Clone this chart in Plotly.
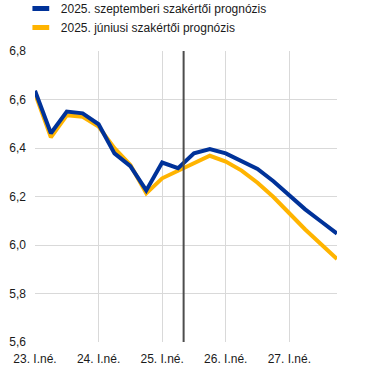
import plotly.graph_objects as go

quarters = list(range(20))  # 2023 Q1 .. 2027 Q4
tick_pos = [0, 4, 8, 12, 16]
tick_labels = ["23. I.né.", "24. I.né.", "25. I.né.", "26. I.né.", "27. I.né."]

sept = [6.636, 6.461, 6.550, 6.543, 6.498, 6.378, 6.325, 6.225, 6.340, 6.317,
        6.378, 6.396, 6.378, 6.348, 6.314, 6.263, 6.204, 6.147, 6.097, 6.047]
june = [6.625, 6.444, 6.535, 6.529, 6.488, 6.399, 6.330, 6.213, 6.275, 6.305,
        6.334, 6.368, 6.344, 6.307, 6.257, 6.198, 6.131, 6.064, 6.003, 5.942]

name_sept = "2025. szeptemberi szakértői prognózis"
name_june = "2025. júniusi szakértői prognózis"
blue = "#003299"
yellow = "#FFB400"
cutoff = 9.35

fig = go.Figure()
fig.add_trace(go.Scatter(x=quarters, y=june, mode="lines", line=dict(color=yellow, width=4),
                         showlegend=False))
fig.add_trace(go.Scatter(x=quarters, y=sept, mode="lines", line=dict(color=blue, width=4),
                         showlegend=False))
for nm, col in [(name_sept, blue), (name_june, yellow)]:
    fig.add_trace(go.Scatter(x=[None], y=[None], mode="markers", name=nm,
                             marker=dict(symbol="line-ew", size=12, color=col,
                                         line=dict(color=col, width=5))))

fig.add_shape(type="line", x0=cutoff, x1=cutoff, y0=5.6, y1=6.8, xref="x", yref="y",
              line=dict(color="#4d4d4d", width=2))

fig.update_layout(
    width=372, height=372,
    margin=dict(l=35, r=35, t=51, b=30, autoexpand=False),
    paper_bgcolor="white", plot_bgcolor="white",
    font=dict(family="Liberation Sans, Arial, sans-serif", size=12, color="#1a1a1a"),
    legend=dict(x=0.056, y=1.196, xref="container", yref="paper",
                xanchor="left", yanchor="top", orientation="v", tracegroupgap=0,
                font=dict(size=12), bgcolor="rgba(0,0,0,0)", itemwidth=30),
    xaxis=dict(range=[0, 19], tickvals=tick_pos, ticktext=tick_labels, showgrid=True,
               gridcolor="#d9d9d9", gridwidth=1, zeroline=False, showline=False,
               ticks="", tickfont=dict(size=12), automargin=False, ticklabelstandoff=8),
    yaxis=dict(range=[5.6, 6.8], tickvals=[5.6, 5.8, 6.0, 6.2, 6.4, 6.6, 6.8],
               ticktext=["5,6", "5,8", "6,0", "6,2", "6,4", "6,6", "6,8"],
               showgrid=True, gridcolor="#d9d9d9", gridwidth=1, zeroline=False,
               showline=False, ticks="", tickfont=dict(size=12), automargin=False,
               ticklabelstandoff=8),
)
fig.write_html("out.html", config={"displayModeBar": False},
               post_script="document.body.style.margin='0px';")
